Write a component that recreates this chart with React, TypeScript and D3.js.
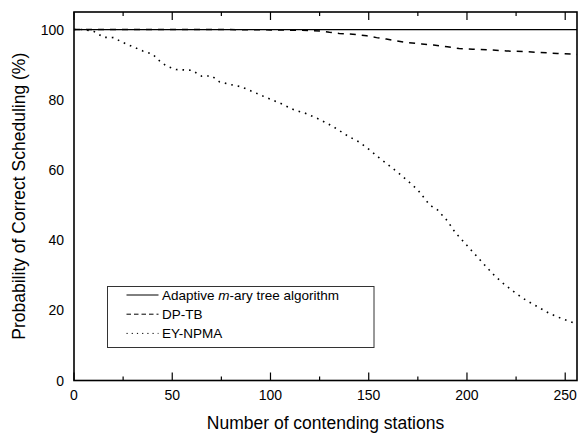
import React, { useEffect, useRef } from 'react';
import * as d3 from 'd3';

// Adaptive m-ary tree algorithm: always 100%
const treeStations = [0, 256];
const treeValues = [100, 100];

// DP-TB
const dpStations = [0, 25, 50, 75, 100, 115, 125, 130, 135, 144, 149, 154, 159, 163, 169, 177, 183, 190, 196, 203, 212, 220, 229, 237, 246, 253, 256];
const dpValues = [100, 100, 100, 100, 99.9, 99.8, 99.6, 99.2, 98.9, 98.6, 98.2, 97.7, 97.3, 96.9, 96.3, 95.9, 95.6, 95.1, 94.6, 94.4, 94.2, 93.9, 93.7, 93.5, 93.2, 93.0, 92.9];

// EY-NPMA
const eyStations = [0, 5, 10, 15, 20, 25, 30, 35, 40, 43, 47, 52, 60, 65, 70, 74, 80, 85, 91, 98, 105, 112, 118, 125, 132, 139, 145, 150, 155, 160, 165, 170, 175, 181, 185, 190, 194, 199, 204, 209, 214, 219, 225, 230, 236, 242, 248, 254, 256];
const eyValues = [100, 100, 99.5, 97.8, 97.7, 96.3, 95.1, 93.9, 93, 91.3, 89.6, 88.6, 88.4, 86.7, 86.8, 85.1, 84.3, 83.7, 82.3, 80.6, 79, 77.1, 76.1, 74.4, 72.3, 69.8, 68, 65.9, 63.6, 61.4, 59.2, 56.8, 54.3, 50, 48.6, 45.5, 42.2, 39.1, 36, 32.9, 29.9, 27.4, 24.8, 22.9, 21, 19.1, 17.7, 16.5, 16];

const xTickValues = [0, 50, 100, 150, 200, 250];
const xMinorTicks = [25, 75, 125, 175, 225];
const yTickValues = [0, 20, 40, 60, 80, 100];

const legendLabels = ['Adaptive', 'DP-TB', 'EY-NPMA'];

const App = () => {
  const chartRef = useRef<HTMLDivElement>(null);

  useEffect(() => {
    d3.select(chartRef.current).selectAll('*').remove();

    const W = 578;
    const H = 433;
    const left = 74, right = 577, top = 12, bottom = 380.5;
    const font = '"Liberation Sans", Arial, sans-serif';

    const svg = d3.select(chartRef.current)
      .append('svg')
      .attr('width', W)
      .attr('height', H)
      .style('position', 'absolute')
      .style('left', '0px')
      .style('top', '0px')
      .style('background', '#fff')
      .style('font-family', font);

    const x = d3.scaleLinear().domain([0, 256]).range([left, right]);
    const y = d3.scaleLinear().domain([0, 105]).range([bottom, top]);

    // Ticks (inward, bottom and top)
    const tickG = svg.append('g').attr('stroke', '#000').attr('stroke-width', 1.2);
    xTickValues.forEach(v => {
      tickG.append('line').attr('x1', x(v)).attr('x2', x(v)).attr('y1', bottom).attr('y2', bottom - 8);
      tickG.append('line').attr('x1', x(v)).attr('x2', x(v)).attr('y1', top).attr('y2', top + 8);
    });
    xMinorTicks.forEach(v => {
      tickG.append('line').attr('x1', x(v)).attr('x2', x(v)).attr('y1', bottom).attr('y2', bottom - 4);
      tickG.append('line').attr('x1', x(v)).attr('x2', x(v)).attr('y1', top).attr('y2', top + 4);
    });

    // Tick labels
    svg.append('g')
      .selectAll('text')
      .data(xTickValues)
      .enter()
      .append('text')
      .attr('x', d => x(d))
      .attr('y', 400)
      .attr('text-anchor', 'middle')
      .attr('font-size', 14)
      .text(d => d);

    svg.append('g')
      .selectAll('text')
      .data(yTickValues)
      .enter()
      .append('text')
      .attr('x', 64)
      .attr('y', d => y(d) + 5)
      .attr('text-anchor', 'end')
      .attr('font-size', 14)
      .text(d => d);

    // Axis titles
    svg.append('text')
      .attr('x', (left + right) / 2)
      .attr('y', 429)
      .attr('text-anchor', 'middle')
      .attr('font-size', 17.5)
      .text('Number of contending stations');

    svg.append('text')
      .attr('transform', `translate(24.5,${(top + bottom) / 2}) rotate(-90)`)
      .attr('text-anchor', 'middle')
      .attr('font-size', 17.5)
      .text('Probability of Correct Scheduling (%)');

    // Lines
    const line = d3.line<[number, number]>()
      .x(d => x(d[0]))
      .y(d => y(d[1]));

    const zip = (a: number[], b: number[]) => a.map((v, i) => [v, b[i]] as [number, number]);

    svg.append('path')
      .attr('d', line(zip(treeStations, treeValues)))
      .attr('fill', 'none')
      .attr('stroke', '#000')
      .attr('stroke-width', 1.3);

    svg.append('path')
      .attr('d', line(zip(dpStations, dpValues)))
      .attr('fill', 'none')
      .attr('stroke', '#000')
      .attr('stroke-width', 1.5)
      .attr('stroke-dasharray', '6,6');

    svg.append('path')
      .attr('d', line(zip(eyStations, eyValues)))
      .attr('fill', 'none')
      .attr('stroke', '#000')
      .attr('stroke-width', 1.6)
      .attr('stroke-dasharray', '1.6,5');

    // Frame
    svg.append('rect')
      .attr('x', left)
      .attr('y', top)
      .attr('width', right - left)
      .attr('height', bottom - top)
      .attr('fill', 'none')
      .attr('stroke', '#000')
      .attr('stroke-width', 1.6);

    // Legend
    const lg = svg.append('g');
    lg.append('rect')
      .attr('x', 107.5)
      .attr('y', 286.5)
      .attr('width', 266.5)
      .attr('height', 61)
      .attr('fill', '#fff')
      .attr('stroke', '#333')
      .attr('stroke-width', 1);

    const dashes = [null, '4.5,3', '1.2,4'];
    legendLabels.forEach((lab, i) => {
      const cy = 295 + i * 19.2;
      const l = lg.append('line')
        .attr('x1', 126.5)
        .attr('x2', 158.5)
        .attr('y1', cy)
        .attr('y2', cy)
        .attr('stroke', '#000')
        .attr('stroke-width', 1);
      if (dashes[i]) l.attr('stroke-dasharray', dashes[i] as string);
      const t = lg.append('text')
        .attr('x', 162)
        .attr('y', cy + 5)
        .attr('font-size', 13.5);
      if (i === 0) {
        t.append('tspan').text('Adaptive ');
        t.append('tspan').attr('font-style', 'italic').text('m');
        t.append('tspan').text('-ary tree algorithm');
      } else {
        t.text(lab);
      }
    });
  }, []);

  return <div ref={chartRef}></div>;
};

export default App;
